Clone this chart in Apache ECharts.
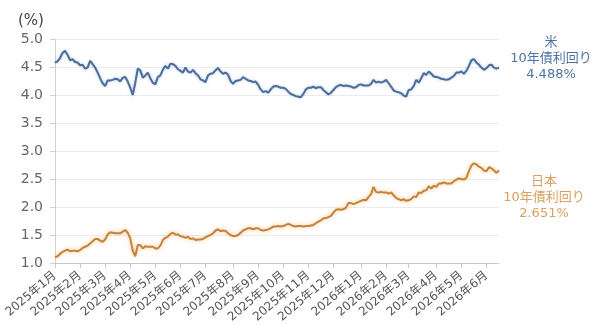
<!DOCTYPE html>
<html>
<head>
<meta charset="utf-8">
<script src="https://cdn.jsdelivr.net/npm/echarts@6/dist/echarts.min.js"></script>
<style>
  html, body { margin: 0; padding: 0; background: #fff; }
  #main { width: 600px; height: 324px; }
</style>
</head>
<body>
<div id="main"></div>
<script>
'use strict';

// 3日刻みの観測点（2025/1/1 ～ 2026/6/16）
const startDate = '2025-01-01';
const stepDays = 3;

// 米10年債利回り (%)
const usYield = [
  4.58, 4.60, 4.66, 4.75, 4.79, 4.72, 4.62, 4.64, 4.59, 4.58,
  4.53, 4.54, 4.47, 4.49, 4.61, 4.55, 4.49, 4.40, 4.30, 4.21,
  4.16, 4.26, 4.26, 4.27, 4.29, 4.28, 4.24, 4.31, 4.32, 4.24,
  4.13, 4.00, 4.22, 4.47, 4.44, 4.31, 4.35, 4.40, 4.30, 4.22,
  4.19, 4.32, 4.35, 4.45, 4.52, 4.47, 4.56, 4.55, 4.52, 4.46,
  4.43, 4.40, 4.49, 4.42, 4.40, 4.45, 4.39, 4.35, 4.28, 4.26,
  4.23, 4.35, 4.38, 4.39, 4.44, 4.48, 4.42, 4.38, 4.40, 4.36,
  4.25, 4.20, 4.25, 4.26, 4.27, 4.32, 4.29, 4.26, 4.25, 4.23,
  4.24, 4.18, 4.10, 4.05, 4.07, 4.04, 4.10, 4.15, 4.16, 4.15,
  4.13, 4.13, 4.11, 4.06, 4.02, 4.00, 3.98, 3.97, 3.96, 4.02,
  4.10, 4.13, 4.13, 4.15, 4.12, 4.14, 4.14, 4.09, 4.05, 4.01,
  4.04, 4.09, 4.14, 4.17, 4.18, 4.16, 4.17, 4.16, 4.15, 4.13,
  4.14, 4.18, 4.19, 4.17, 4.17, 4.17, 4.20, 4.27, 4.22, 4.24,
  4.22, 4.24, 4.27, 4.21, 4.15, 4.08, 4.06, 4.05, 4.03, 3.99,
  3.97, 4.09, 4.10, 4.16, 4.27, 4.22, 4.30, 4.39, 4.36, 4.42,
  4.38, 4.33, 4.32, 4.31, 4.29, 4.28, 4.27, 4.28, 4.31, 4.34,
  4.40, 4.40, 4.42, 4.38, 4.43, 4.52, 4.62, 4.64, 4.58, 4.54,
  4.49, 4.45, 4.48, 4.53, 4.54, 4.49, 4.47, 4.488
];

// 日本10年債利回り (%)
const jpYield = [
  1.10, 1.12, 1.16, 1.20, 1.22, 1.24, 1.21, 1.22, 1.22, 1.21,
  1.23, 1.27, 1.29, 1.31, 1.35, 1.39, 1.43, 1.43, 1.40, 1.38,
  1.42, 1.51, 1.55, 1.54, 1.53, 1.53, 1.53, 1.56, 1.59, 1.54,
  1.44, 1.22, 1.12, 1.32, 1.32, 1.26, 1.30, 1.29, 1.29, 1.29,
  1.26, 1.26, 1.31, 1.41, 1.45, 1.47, 1.52, 1.54, 1.51, 1.51,
  1.48, 1.47, 1.45, 1.47, 1.43, 1.44, 1.41, 1.42, 1.42, 1.43,
  1.46, 1.48, 1.50, 1.53, 1.58, 1.60, 1.57, 1.58, 1.57, 1.53,
  1.50, 1.48, 1.48, 1.50, 1.54, 1.58, 1.60, 1.62, 1.62, 1.60,
  1.62, 1.62, 1.59, 1.58, 1.59, 1.60, 1.62, 1.65, 1.65, 1.66,
  1.65, 1.66, 1.68, 1.70, 1.68, 1.66, 1.65, 1.66, 1.66, 1.65,
  1.66, 1.66, 1.67, 1.68, 1.71, 1.74, 1.76, 1.80, 1.80, 1.82,
  1.84, 1.90, 1.95, 1.96, 1.95, 1.96, 1.99, 2.07, 2.07, 2.05,
  2.07, 2.09, 2.11, 2.13, 2.12, 2.18, 2.23, 2.36, 2.27, 2.26,
  2.27, 2.26, 2.26, 2.24, 2.26, 2.21, 2.16, 2.14, 2.12, 2.14,
  2.11, 2.12, 2.14, 2.19, 2.18, 2.26, 2.25, 2.29, 2.30, 2.37,
  2.33, 2.38, 2.36, 2.42, 2.42, 2.44, 2.42, 2.42, 2.42, 2.46,
  2.49, 2.51, 2.50, 2.49, 2.52, 2.64, 2.74, 2.78, 2.76, 2.72,
  2.70, 2.65, 2.64, 2.71, 2.69, 2.65, 2.61, 2.651
];

const yTicks = [1.0, 1.5, 2.0, 2.5, 3.0, 3.5, 4.0, 4.5, 5.0];

const usColor = '#4d6c98';
const jpColor = '#c4823f';
const labelFont = '13px "DejaVu Sans", "Noto Sans CJK JP", sans-serif';

// 日付カテゴリ
const dates = [];
const t0 = new Date(startDate + 'T00:00:00Z').getTime();
for (let i = 0; i < usYield.length; i++) {
  dates.push(new Date(t0 + i * stepDays * 86400000));
}
const fmt = d => d.toISOString().slice(0, 10);

// 月初に一番近い点に目盛りを付ける
const monthLabel = {};
for (let i = 0; i < dates.length; i++) {
  const d = dates[i];
  if (i === 0) {
    monthLabel[0] = d.getUTCFullYear() + '年' + (d.getUTCMonth() + 1) + '月';
    continue;
  }
  if (d.getUTCMonth() !== dates[i - 1].getUTCMonth()) {
    const m1 = Date.UTC(d.getUTCFullYear(), d.getUTCMonth(), 1);
    const idx = (d.getTime() - m1) <= (m1 - dates[i - 1].getTime()) ? i : i - 1;
    monthLabel[idx] = d.getUTCFullYear() + '年' + (d.getUTCMonth() + 1) + '月';
  }
}
const isMonth = idx => monthLabel[idx] !== undefined;

let mChart = null;

window.onload = function () {
  mChart = echarts.init(document.getElementById('main'));

  const options = {
    animation: false,
    backgroundColor: '#fff',
    textStyle: { fontFamily: '"DejaVu Sans", "Noto Sans CJK JP", sans-serif' },
    title: {
      text: '(%)',
      left: 13,
      top: 9,
      textStyle: { fontSize: 15, fontWeight: 'normal', color: '#444' }
    },
    grid: {
      left: 55, right: 101, top: 39, bottom: 61,
      outerBoundsMode: 'none'
    },
    xAxis: {
      type: 'category',
      boundaryGap: false,
      data: dates.map(fmt),
      axisLine: { lineStyle: { color: '#c8c8c8' } },
      axisTick: {
        show: true, length: 5, interval: isMonth,
        lineStyle: { color: '#c8c8c8' }
      },
      axisLabel: {
        interval: isMonth,
        rotate: 40,
        margin: 11,
        fontSize: 12,
        color: '#555',
        formatter: (v, idx) => monthLabel[idx] || ''
      },
      splitLine: { show: false }
    },
    yAxis: {
      type: 'value',
      min: yTicks[0],
      max: yTicks[yTicks.length - 1],
      interval: 0.5,
      axisLine: { show: true, lineStyle: { color: '#d0d0d0' } },
      axisTick: { show: true, length: 5, lineStyle: { color: '#d0d0d0' } },
      axisLabel: {
        margin: 12,
        fontSize: 14,
        color: '#666',
        formatter: v => v.toFixed(1)
      },
      splitLine: { lineStyle: { color: '#ebebeb' } }
    },
    series: [
      {
        name: '米10年債利回り',
        type: 'line',
        data: usYield,
        showSymbol: false,
        lineStyle: {
          color: usColor, width: 2,
          shadowColor: 'rgba(150,180,225,0.7)', shadowBlur: 3
        },
        z: 3
      },
      {
        name: '日本10年債利回り',
        type: 'line',
        data: jpYield,
        showSymbol: false,
        lineStyle: {
          color: jpColor, width: 2,
          shadowColor: 'rgba(250,190,120,0.9)', shadowBlur: 4
        },
        z: 2
      }
    ],
    graphic: [
      {
        type: 'text',
        x: 551, y: 35,
        style: {
          text: '米\n10年債利回り\n' + usYield[usYield.length - 1].toFixed(3) + '%',
          align: 'center',
          verticalAlign: 'top',
          lineHeight: 16,
          fill: '#4f72a6',
          font: labelFont
        }
      },
      {
        type: 'text',
        x: 544, y: 174,
        style: {
          text: '日本\n10年債利回り\n' + jpYield[jpYield.length - 1].toFixed(3) + '%',
          align: 'center',
          verticalAlign: 'top',
          lineHeight: 16,
          fill: '#d9a060',
          font: labelFont
        }
      }
    ]
  };

  mChart.setOption(options, true);

  window.onresize = function () {
    mChart.resize();
  };
};
</script>
</body>
</html>
